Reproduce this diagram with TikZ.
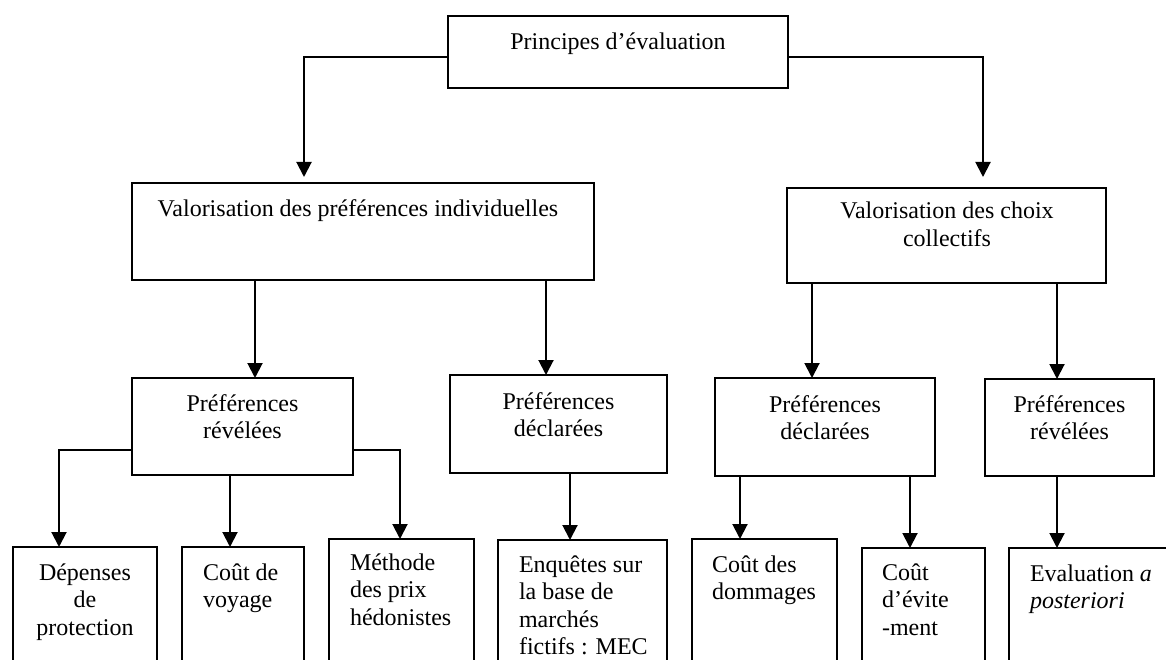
\documentclass[tikz,border=0pt]{standalone}
\usepackage{fontspec}
\setmainfont{Liberation Serif}
\usetikzlibrary{arrows.meta}
\newcommand{\mlc}[1]{\begin{tabular}[t]{@{}c@{}}#1\end{tabular}}
\newcommand{\mll}[1]{\begin{tabular}[t]{@{}l@{}}#1\end{tabular}}
\begin{document}
\begin{tikzpicture}[x=1pt,y=-1pt,
  box/.style={draw=black, line width=2pt, fill=none, inner sep=0pt, outer sep=0pt, anchor=north west},
  txt/.style={inner sep=0pt, outer sep=0pt, font=\fontsize{24}{27.5}\selectfont},
  arr/.style={draw=black, line width=2pt, -{Triangle[width=15pt,length=15pt]}}]
\useasboundingbox (0,0) rectangle (1166,660);
\clip (0,0) rectangle (1166,660);
\fill[white] (0,0) rectangle (1166,660);
% boxes
\node[box, minimum width=340pt, minimum height=72pt] (top) at (448,16) {};
\node[box, minimum width=462pt, minimum height=97pt] (val1) at (132,183) {};
\node[box, minimum width=319pt, minimum height=95pt] (val2) at (787,188) {};
\node[box, minimum width=221pt, minimum height=97pt] (pr1) at (132,378) {};
\node[box, minimum width=217pt, minimum height=98pt] (pd1) at (450,375) {};
\node[box, minimum width=220pt, minimum height=98pt] (pd2) at (715,378) {};
\node[box, minimum width=169pt, minimum height=97pt] (pr2) at (985,379) {};
\node[box, minimum width=144pt, minimum height=160pt] (dep) at (13,547) {};
\node[box, minimum width=122pt, minimum height=160pt] (cv) at (182,547) {};
\node[box, minimum width=145pt, minimum height=160pt] (meth) at (329,539) {};
\node[box, minimum width=169pt, minimum height=160pt] (enq) at (498,540) {};
\node[box, minimum width=145pt, minimum height=160pt] (cd) at (692,539) {};
\node[box, minimum width=123pt, minimum height=160pt] (ce) at (862,548) {};
\node[box, minimum width=200pt, minimum height=160pt] (ev) at (1009,548) {};
% texts
\node[txt, anchor=base] (ttop) at (618,50) {Principes d’évaluation};
\node[txt, anchor=base] (tval1) at (358,217) {Valorisation des préférences individuelles};
\node[txt, anchor=base] (tval2) at (947,219) {\mlc{Valorisation des choix\\collectifs}};
\node[txt, anchor=base] (tpr1) at (242.5,411) {\mlc{Préférences\\révélées}};
\node[txt, anchor=base] (tpd1) at (558.5,409) {\mlc{Préférences\\déclarées}};
\node[txt, anchor=base] (tpd2) at (825,412) {\mlc{Préférences\\déclarées}};
\node[txt, anchor=base] (tpr2) at (1069.5,412) {\mlc{Préférences\\révélées}};
\node[txt, anchor=base] (tdep) at (85,580) {\mlc{Dépenses\\de\\protection}};
\node[txt, anchor=base west] (tcv) at (203,580) {\mll{Coût de\\voyage}};
\node[txt, anchor=base west] (tmeth) at (350,570) {\mll{Méthode\\des prix\\hédonistes}};
\node[txt, anchor=base west] (tenq) at (519,572) {\mll{Enquêtes sur\\la base de\\marchés\\fictifs : MEC}};
\node[txt, anchor=base west] (tcd) at (712,572) {\mll{Coût des\\dommages}};
\node[txt, anchor=base west] (tce) at (882,580) {\mll{Coût\\d’évite\\-ment}};
\node[txt, anchor=base west] (tev) at (1030,581) {\mll{Evaluation \textit{a}\\\textit{posteriori}}};
% branch positions
\coordinate (k1) at (304,57);
\coordinate (k2) at (983,57);
\coordinate (k3) at (255,0);
\coordinate (k4) at (546,0);
\coordinate (k5) at (812,0);
\coordinate (k6) at (1057,0);
\coordinate (k7) at (59,450);
\coordinate (k8) at (230,0);
\coordinate (k9) at (400,450);
\coordinate (k10) at (570,0);
\coordinate (k11) at (740,0);
\coordinate (k12) at (910,0);
% connectors
\draw[arr, shorten >=6pt] (top.west |- k1) -| (val1.north -| k1);
\draw[arr, shorten >=11pt] (top.east |- k2) -| (val2.north -| k2);
\draw[arr] (val1.south -| k3) -- (pr1.north -| k3);
\draw[arr] (val1.south -| k4) -- (pd1.north -| k4);
\draw[arr] (val2.south -| k5) -- (pd2.north -| k5);
\draw[arr] (val2.south -| k6) -- (pr2.north -| k6);
\draw[arr] (pr1.west |- k7) -| (dep.north -| k7);
\draw[arr] (pr1.south -| k8) -- (cv.north -| k8);
\draw[arr] (pr1.east |- k9) -| (meth.north -| k9);
\draw[arr] (pd1.south -| k10) -- (enq.north -| k10);
\draw[arr] (pd2.south -| k11) -- (cd.north -| k11);
\draw[arr] (pd2.south -| k12) -- (ce.north -| k12);
\draw[arr] (pr2.south -| k6) -- (ev.north -| k6);
\end{tikzpicture}
\end{document}
